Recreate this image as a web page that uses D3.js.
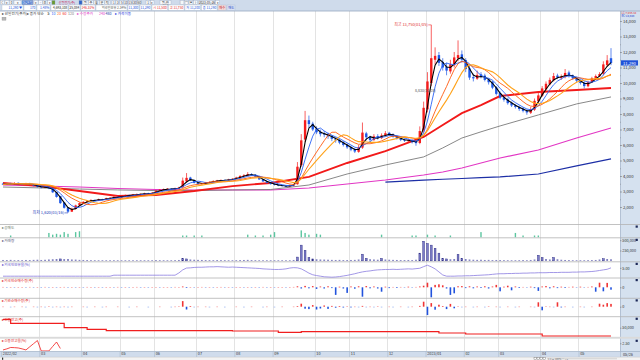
<!DOCTYPE html>
<html><head><meta charset="utf-8">
<script src="https://cdn.jsdelivr.net/npm/d3@7"></script>
<style>
html,body{margin:0;padding:0;background:#fff;overflow:hidden}
svg{display:block;font-family:"Noto Sans CJK KR","Noto Sans",sans-serif}
</style></head><body>
<svg id="c" width="640" height="360"></svg>
<script>
// ---------------- DATA ----------------
const candleOpen = [
3500,3450,3540,3470,3560,3510,3460,3530,3460,3390,
3320,3240,3310,3210,2960,2700,2300,1980,1700,1880,
2120,2240,2340,2410,2460,2410,2510,2470,2570,2600,
2660,2610,2700,2770,2730,2800,2820,2850,2890,2860,
2930,3040,3130,3140,3190,3150,3210,3270,3650,3900,
3730,3570,3470,3510,3590,3610,3690,3690,3750,3710,
3770,3830,3880,4010,4030,4130,4090,3960,3790,3660,
3570,3490,3430,3400,3360,3330,3390,3470,4700,6350,
7600,7380,7050,6850,6720,6690,6560,6410,6320,6170,
6030,5870,5720,5560,5830,6750,6520,6330,6580,6440,
6610,6790,6700,6560,6430,6340,6260,6310,6200,6130,
6950,8300,10000,11500,11800,11350,11050,10750,11150,11600,
11850,11480,10950,10380,10280,10560,10480,10230,10080,9720,
9350,9080,8950,8720,8560,8460,8350,8220,8080,8280,
8820,9180,9600,9920,10180,10480,10320,10380,10680,10480,
10320,10170,10020,9790,10060,10290,10440,10600,11150,11600];
const candleHigh = [
3560,3560,3560,3600,3580,3540,3560,3560,3480,3420,
3350,3340,3330,3230,2980,2720,2320,2000,1950,2150,
2300,2380,2450,2500,2480,2540,2530,2600,2640,2700,
2690,2740,2800,2800,2840,2870,2880,2920,2920,2950,
3080,3160,3190,3220,3220,3250,3300,3900,4190,3950,
3760,3600,3560,3620,3650,3720,3750,3780,3780,3820,
3860,3950,4060,4120,4250,4180,4110,3980,3820,3700,
3600,3520,3460,3420,3400,3440,3500,4900,6700,8200,
7900,7500,7200,7000,6900,6800,6650,6500,6400,6250,
6100,5950,5800,6000,7450,6850,6600,6700,6700,6750,
6900,6850,6750,6620,6500,6420,6420,6380,6280,7200,
8800,10700,13750,12300,12000,11600,11300,11500,12000,12750,
12100,11600,11100,10600,10800,10700,10600,10300,10150,9800,
9450,9200,9050,8800,8650,8550,8450,8300,8450,9000,
9350,9800,10100,10350,10650,10600,10550,10900,10800,10550,
10400,10250,10100,10150,10400,10550,10700,11400,11800,12250];
const candleLow = [
3420,3420,3440,3440,3470,3430,3440,3420,3340,3260,
3200,3220,3150,2900,2600,2200,1900,1620,1680,1850,
2080,2200,2300,2370,2380,2380,2440,2440,2540,2560,
2580,2580,2670,2700,2700,2770,2790,2820,2840,2830,
2900,3000,3100,3110,3120,3120,3180,3240,3600,3680,
3520,3440,3440,3480,3560,3580,3650,3660,3680,3680,
3740,3800,3860,3980,4000,4040,3920,3750,3620,3520,
3440,3390,3340,3310,3300,3300,3350,3440,4600,6200,
7100,6900,6700,6550,6500,6400,6250,6150,6050,5900,
5750,5600,5480,5500,5750,6300,6200,6250,6350,6380,
6550,6580,6480,6350,6250,6200,6200,6100,5950,6050,
6800,8100,9800,11200,11100,10800,10500,10600,11000,11400,
11300,10700,10200,10100,10200,10300,10100,9900,9600,9200,
8950,8800,8600,8450,8350,8200,8100,7950,8000,8200,
8750,9100,9500,9850,10100,10250,10200,10300,10350,10200,
10050,9900,9650,9720,10000,10250,10400,10500,11050,11150];
const candleClose = [
3450,3520,3480,3550,3500,3470,3520,3450,3380,3300,
3250,3300,3200,2950,2650,2250,1950,1700,1880,2100,
2250,2330,2400,2450,2420,2500,2480,2560,2600,2650,
2620,2700,2760,2740,2800,2830,2850,2880,2870,2920,
3050,3120,3150,3180,3160,3220,3260,3700,3880,3720,
3560,3480,3520,3580,3620,3680,3700,3740,3720,3780,
3820,3900,4000,4050,4120,4080,3950,3780,3650,3560,
3480,3420,3380,3350,3340,3400,3460,4600,6300,7600,
7350,7000,6820,6700,6680,6550,6400,6300,6150,6000,
5850,5700,5580,5850,6800,6500,6320,6560,6450,6620,
6760,6680,6540,6420,6330,6280,6300,6180,6120,6900,
8400,10100,11600,11750,11300,11000,10800,11200,11650,11800,
11500,10900,10350,10300,10520,10450,10200,10050,9700,9300,
9050,8920,8700,8550,8450,8320,8200,8100,8300,8850,
9200,9650,9950,10200,10450,10350,10400,10650,10450,10300,
10150,10000,9800,10050,10300,10450,10580,11200,11460,11290];

// long moving averages, read at these candle indices
const maIdx  = [0,10,20,30,40,50,60,70,80,90,100,110,115,120,125,130,140,150,159];
const ma60   = [3550,3350,3030,2710,2770,3030,3350,3550,3940,4840,5610,6520,7290,8060,8580,9160,9420,9550,9680];
const ma120  = [3290,3230,3160,3100,3060,3060,3100,3130,3420,4130,4710,5230,5810,6450,6850,7230,7940,8650,9100];
const ma240  = [3420,3350,3290,3190,3130,3100,3100,3100,3230,3480,3740,4060,4260,4520,4840,5160,5680,6450,7100];
const ma480  = [null,null,null,null,null,null,null,null,null,null,3610,3740,3790,3840,3890,3940,4130,4650,5100];
const shortMaWindows = [3,5,9,12];

// volume (thousand shares)
const volumeK = [
20,18,22,15,17,16,20,18,22,25, 20,24,30,35,40,45,38,40,30,28,
22,20,18,16,15,14,15,13,14,12, 12,13,12,11,12,13,12,14,13,15,
18,16,15,14,15,16,20,55,45,30, 25,22,20,18,17,16,18,17,16,15,
15,16,18,20,22,18,16,15,14,13, 13,14,13,12,12,13,20,90,380,255,
80,45,35,30,28,25,22,20,22,18, 18,20,22,30,160,60,35,30,25,58,
30,25,22,20,18,18,20,18,25,185, 475,420,380,305,185,60,45,35,40,155,
60,40,30,25,22,25,20,22,18,20, 18,16,15,14,15,16,18,15,20,30,
135,80,40,30,80,35,25,20,18,15, 14,15,14,16,18,20,30,50,40,35];

// foreign ownership (%)
const foreignOwnPct = [
0.89,0.89,0.89,0.89,0.89,0.89,0.89,0.89,0.89,0.89,
0.89,0.89,0.89,0.89,0.89,0.89,0.89,0.89,0.89,0.89,
0.89,0.89,0.89,0.89,0.89,0.89,0.89,0.89,0.89,
1.38,1.38,1.38,1.38,1.38,1.38,1.38,1.38,1.38,1.38,1.38,1.38,1.38,1.38,1.38,1.38,1.38,
2.5,4.0,4.9,5.0,5.2,5.3,5.3,5.4,5.5,5.5,5.6,5.5,5.4,5.3,5.4,
5.3,5.2,5.1,5.0,4.9,4.8,4.7,4.5,4.4,4.3,
4.2,4.2,4.3,4.5,4.9,5.1,5.0,4.5,3.5,2.4,
1.6,1.2,0.9,0.6,0.5,0.4,0.5,0.7,1.0,1.3,
1.7,2.1,2.6,3.0,3.3,3.5,3.8,4.0,4.1,4.2,
4.2,4.3,4.2,4.3,4.4,4.5,4.4,4.6,4.8,5.6,
6.3,5.5,4.5,3.0,1.5,0.9,0.9,0.9,1.0,1.0,
1.1,1.1,1.2,1.3,1.4,1.5,1.6,1.8,2.0,2.1,
2.1,2.2,2.2,2.3,2.3,2.4,2.4,2.5,2.5,2.6,
2.6,2.6,2.7,2.7,2.7,2.8,2.8,2.8,2.9,2.9,
3.0,3.0,3.1,3.2,3.4,3.7,4.0,4.3,5.0];

// foreign / institution net buying (thousand shares)
const foreignNet = [
2,-1,1,-2,1,1,-1,2,-2,1, -1,2,-2,1,-1,1,2,-1,1,-2,
1,-1,2,1,-1,1,-2,1,1,-1, 2,-1,1,-1,1,2,-1,1,-1,1,
1,-2,1,1,-1,2,1,4,-3,1, -1,1,2,-1,1,-1,1,2,-1,1,
-1,1,1,-2,1,-1,1,-1,2,-1, 1,-1,1,1,-1,1,2,5,-6,7,
-5,6,-8,4,-6,5,-4,-38,3,-6, -28,4,-7,5,-47,6,-5,4,-6,-22,
3,-4,2,-3,2,-2,3,-2,2,4, 8,23,-50,12,15,10,-6,-38,-30,5,
6,-4,5,-5,4,-3,5,-6,4,12, -20,3,8,-15,4,-3,2,-2,3,-4,
-18,4,6,-5,5,-4,3,-3,2,3, -2,3,-2,2,4,-22,23,-20,22,-12];
const instNet = [
1,0,-1,1,0,1,-1,0,1,-1, 1,-1,2,-1,1,-2,1,-1,1,0,
0,1,-1,0,1,0,-1,1,0,0, 1,0,0,-1,0,1,0,0,-1,0,
0,1,0,0,-1,1,2,28,-14,3, -2,1,0,1,-1,0,1,0,-1,0,
0,1,0,-1,0,1,0,0,-1,1, 0,-1,0,1,0,0,1,3,15,-10,
-12,8,-14,-9,6,-11,4,-5,3,-4, 2,-3,1,-2,4,-2,1,-1,2,-1,
0,1,-1,0,1,0,-1,1,0,4, 25,-42,18,-15,10,3,-12,14,-8,2,
-1,1,0,-1,1,0,-1,2,0,1, -1,0,1,0,-1,1,0,0,1,-1,
22,-18,2,1,-1,22,-3,1,0,-1, 0,1,-1,0,1,0,15,10,18,14];

// short-selling bars (sparse)
const shortIdx = [2,12,13,14,15,16,17,19,20,47,48,50,52,64,66,68,70,71,78,79,80,82,83,99,107,108,111,113,117,125,134,136,139,140];
const shortVal = [2,5,3,4,3,6,4,6,7,2,2,2,2,3,2,2,3,6,8,5,3,4,3,3,2,2,3,2,2,6,5,2,2,2];

// credit balance (shares), step changes at these candle indices
const creditStepIdx = [0,2,16,22,27,60,72,78,114,121,141];
const creditStepVal = [78000,64700,50000,44700,40000,39000,34700,36700,32300,29000,22300];
// credit ratio (%), first candles only
const creditRatePct = [0.59,0.9,1.3,1.25,1.16,0.9,0.59,1.5,2.4,3.3,0.3,0.3,0.3,1.6,2.87,1.01];

const monthLabels   = ["2022/02","03","04","05","06","07","08","09","10","11","12","2023/01","02","03","04","05"];
const monthStartIdx = [0,10,21,31,40,51,61,71,82,91,101,111,121,130,141,151];
const priceTicks = [2000,3000,4000,5000,6000,7000,8000,9000,10000,11000,12000,13000,14000];
const lastPrice = 11290, lastDate = "05/26";
const highLabel = "최고 13,750(01/05)", highIdx = 112;
const lowLabel = "최저 1,620(03/16)", lowIdx = 17;

// ---------------- DRAWING ----------------
const svg = d3.select("#c");
const N = candleClose.length;
const x = d3.scaleLinear().domain([0, N - 1]).range([3, 611]);
const step = x(1) - x(0);
const yP = d3.scaleLinear().domain([2000, 14000]).range([207, 21]);
const UP = "#f51d1d", DN = "#1e58e6";
const fmt = d3.format(",");
const FF = '"Noto Sans CJK KR",sans-serif';

function txt(g, X, Y, s, size, color, anchor) {
  return g.append("text").attr("x", X).attr("y", Y).attr("font-size", size)
    .attr("fill", color).attr("text-anchor", anchor || "start").text(s);
}

svg.append("rect").attr("width", 640).attr("height", 360).attr("fill", "#fff");
svg.append("defs").append("clipPath").attr("id", "cm").append("rect")
  .attr("x", 0).attr("y", 11).attr("width", 620).attr("height", 213.5);

// right axis panel
svg.append("rect").attr("x", 620).attr("y", 11).attr("width", 20).attr("height", 341).attr("fill", "#d5e1ef");
svg.append("line").attr("x1", 620.5).attr("x2", 620.5).attr("y1", 11).attr("y2", 352).attr("stroke", "#a9b9cd").attr("stroke-width", 0.8);

// month gridlines
svg.append("g").selectAll("line").data(monthStartIdx.slice(1)).join("line")
  .attr("x1", d => Math.round(x(d) - step / 2) + 0.5).attr("x2", d => Math.round(x(d) - step / 2) + 0.5)
  .attr("y1", 11).attr("y2", 351.5).attr("stroke", "#dcdcdc").attr("stroke-width", 0.8);

// panel separators
const seps = [224.5, 237.8, 261.8, 278, 298.3, 316.7];
svg.append("g").selectAll("line").data(seps).join("line")
  .attr("x1", 0).attr("x2", 640).attr("y1", d => d).attr("y2", d => d)
  .attr("stroke", "#b2b2b2").attr("stroke-width", 0.8);
svg.append("rect").attr("x", 0).attr("y", 336.8).attr("width", 640).attr("height", 1.9).attr("fill", "#dadada");

// ---- main chart ----
const gm = svg.append("g").attr("clip-path", "url(#cm)");
const lineP = d3.line().defined(d => d.v != null).x(d => x(d.i)).y(d => yP(d.v));
function drawMA(vals, color, w) {
  const pts = maIdx.map((i, k) => ({ i, v: vals[k] }));
  gm.append("path").attr("d", lineP(pts)).attr("fill", "none").attr("stroke", color).attr("stroke-width", w);
}
drawMA(ma480, "#1d2fa6", 1.2);
drawMA(ma240, "#e236c4", 1.1);
drawMA(ma120, "#7a7a7a", 0.9);
drawMA(ma60, "#f21a1a", 1.9);

// candles
const cg = gm.append("g");
const idx = d3.range(N);
const col = i => candleClose[i] >= candleOpen[i] ? UP : DN;
cg.selectAll("line").data(idx).join("line")
  .attr("x1", i => x(i)).attr("x2", i => x(i))
  .attr("y1", i => yP(candleHigh[i])).attr("y2", i => yP(candleLow[i]))
  .attr("stroke", col).attr("stroke-width", 0.7);
cg.selectAll("rect").data(idx).join("rect")
  .attr("x", i => x(i) - 1.2).attr("width", 2.4)
  .attr("y", i => yP(Math.max(candleOpen[i], candleClose[i])))
  .attr("height", i => Math.max(0.8, Math.abs(yP(candleOpen[i]) - yP(candleClose[i]))))
  .attr("fill", col);

// short moving averages from closes
const shortColors = ["#000000", "#2a62f5", "#ff5a10", "#ffa21a"];
const shortWidths = [1.1, 0.9, 0.9, 1.1];
shortMaWindows.forEach((w, k) => {
  const pts = idx.map(i => ({ i, v: d3.mean(candleClose.slice(Math.max(0, i - w + 1), i + 1)) }));
  gm.append("path").attr("d", lineP(pts)).attr("fill", "none")
    .attr("stroke", shortColors[k]).attr("stroke-width", shortWidths[k]);
});

// annotations
txt(svg, x(highIdx) - 3.5, yP(candleHigh[highIdx]) + 1.4, highLabel, 4, "#e23030", "end");
svg.append("line").attr("x1", x(highIdx) - 3).attr("x2", x(highIdx)).attr("y1", yP(candleHigh[highIdx])).attr("y2", yP(candleHigh[highIdx])).attr("stroke", "#e23030").attr("stroke-width", 0.6);
txt(svg, x(lowIdx) - 4, yP(candleLow[lowIdx]) + 1.4, lowLabel, 4, "#2438b8", "end");
svg.append("line").attr("x1", x(lowIdx) - 3.5).attr("x2", x(lowIdx)).attr("y1", yP(candleLow[lowIdx])).attr("y2", yP(candleLow[lowIdx])).attr("stroke", "#2438b8").attr("stroke-width", 0.6);
txt(svg, 415, 92, "8,830(12/28)", 3.6, "#555");

// price axis
const ax = svg.append("g").attr("transform", "translate(620,0)")
  .call(d3.axisRight(yP).tickValues(priceTicks).tickSize(2).tickPadding(1).tickFormat(fmt));
ax.select(".domain").remove();
ax.selectAll("text").attr("font-size", 4.2).attr("fill", "#333").attr("font-family", FF);
ax.selectAll("line").attr("stroke", "#666").attr("stroke-width", 0.5);
const axm = svg.append("g").attr("transform", "translate(620,0)")
  .call(d3.axisRight(yP).tickValues(priceTicks.slice(0, -1).map(v => v + 500)).tickSize(1).tickFormat(""));
axm.select(".domain").remove();
axm.selectAll("line").attr("stroke", "#777").attr("stroke-width", 0.4);

// current price tag (covers the 11,000 label partly, as in the reference)
const yl = yP(lastPrice);
svg.append("rect").attr("x", 621).attr("y", yl - 2.7).attr("width", 17).attr("height", 5.2).attr("fill", "#1f52d8");
txt(svg, 623, yl + 1.5, fmt(lastPrice), 4.2, "#fff");
txt(svg, 621.5, 14.3, "LC:7,056.44", 2.8, "#e03030");
txt(svg, 621.5, 17.2, "RC:10,849", 2.8, "#2040d0");

// ---- panel A: short selling ----
const yS = d3.scaleLinear().domain([0, 8]).range([237.2, 230.4]);
svg.append("g").selectAll("rect").data(shortIdx).join("rect")
  .attr("x", i => x(i) - 0.7).attr("width", 1.4)
  .attr("y", (i, k) => yS(shortVal[k])).attr("height", (i, k) => yS(0) - yS(shortVal[k]))
  .attr("fill", "#5cc6a0");

// ---- panel B: volume ----
const yV = d3.scaleLinear().domain([0, 500]).range([260.8, 240.2]);
svg.append("g").selectAll("rect").data(idx).join("rect")
  .attr("x", i => x(i) - 0.9).attr("width", 1.8)
  .attr("y", i => yV(volumeK[i])).attr("height", i => Math.max(0.6, yV(0) - yV(volumeK[i])))
  .attr("fill", i => volumeK[i] > 40 ? "#7c7cc8" : "#6a6ab4")
  .attr("stroke", "#2c2c84").attr("stroke-width", i => volumeK[i] > 40 ? 0.45 : 0);
const axV = svg.append("g").attr("transform", "translate(620,0)")
  .call(d3.axisRight(yV).tickValues([250, 500]).tickSize(1.5).tickPadding(0.8).tickFormat(d => fmt(d * 1000)));

// ---- panel C: foreign ownership ----
const yO = d3.scaleLinear().domain([0, 7]).range([278, 263.8]);
svg.append("path").attr("d", d3.line().x((d, i) => x(i)).y(d => yO(d))(foreignOwnPct))
  .attr("fill", "none").attr("stroke", "#8a7ce0").attr("stroke-width", 0.8);
const axO = svg.append("g").attr("transform", "translate(620,0)")
  .call(d3.axisRight(yO).tickValues([5]).tickSize(1.5).tickPadding(0.8).tickFormat(d3.format(".2f")));

// ---- panel D / E: net buying bars ----
function netBars(vals, yS2) {
  const y0 = yS2(0);
  svg.append("g").selectAll("rect").data(idx.filter(i => vals[i] !== 0)).join("rect")
    .attr("x", i => x(i) - 0.8).attr("width", 1.6)
    .attr("y", i => Math.min(y0, yS2(vals[i])))
    .attr("height", i => Math.max(0.7, Math.abs(yS2(vals[i]) - y0)))
    .attr("fill", i => vals[i] > 0 ? (vals[i] <= 2 ? "#f59a9a" : "#f03535") : (vals[i] >= -2 ? "#93aeee" : "#2253dd"));
}
const yF = d3.scaleLinear().domain([-50, 50]).range([297.3, 277.3]);
netBars(foreignNet, yF);
const axF = svg.append("g").attr("transform", "translate(620,0)")
  .call(d3.axisRight(yF).tickValues([0]).tickSize(1.5).tickPadding(0.8));
const yI = d3.scaleLinear().domain([-50, 50]).range([316.7, 296.7]);
netBars(instNet, yI);
const axI = svg.append("g").attr("transform", "translate(620,0)")
  .call(d3.axisRight(yI).tickValues([0]).tickSize(1.5).tickPadding(0.8));

// ---- panel F: credit balance ----
const yC = d3.scaleLinear().domain([0, 100000]).range([342.7, 312.7]);
const cPts = creditStepIdx.map((i, k) => ({ i, v: creditStepVal[k] }));
cPts.push({ i: N - 1, v: creditStepVal[creditStepVal.length - 1] });
svg.append("path").attr("d", d3.line().curve(d3.curveStepAfter).x(d => x(d.i)).y(d => yC(d.v))(cPts))
  .attr("fill", "none").attr("stroke", "#f01e1e").attr("stroke-width", 1.2);
const axC = svg.append("g").attr("transform", "translate(620,0)")
  .call(d3.axisRight(yC).tickValues([50000]).tickSize(1.5).tickPadding(0.8).tickFormat(fmt));

// ---- panel G: credit ratio ----
const yR = d3.scaleLinear().domain([0, 2.5]).range([352, 343.3]);
svg.append("path").attr("d", d3.line().x((d, i) => x(i)).y(d => yR(d))(creditRatePct))
  .attr("fill", "none").attr("stroke", "#f01e1e").attr("stroke-width", 0.8);
const axR = svg.append("g").attr("transform", "translate(620,0)")
  .call(d3.axisRight(yR).tickValues([2.5]).tickSize(1.5).tickPadding(0.8).tickFormat(d3.format(".2f")));

[axV, axO, axF, axI, axC, axR].forEach(a => {
  a.select(".domain").remove();
  a.selectAll("text").attr("font-size", 3.8).attr("fill", "#333").attr("font-family", FF);
  a.selectAll("line").attr("stroke", "#666").attr("stroke-width", 0.5);
});

// panel titles & squares
const panelTitles = [
  [228.6, "▸ 공매도", "#6a7a6a"], [241.7, "▸ 거래량", "#555577"], [265.6, "▸ 외국인보유율(%)", "#5a4cc8"],
  [281.9, "▸ 외국인순매수량(주)", "#e02828"], [302.2, "▸ 기관순매수량(주)", "#e02828"],
  [320.6, "▸ 신용잔고(주)", "#e02828"], [342.3, "▸ 신용잔고율(%)", "#e02828"]];
panelTitles.forEach(p => txt(svg, 1.5, p[0], p[1], 3.6, p[2]));
[224.5, 237.8, 261.8, 278, 298.3, 316.7, 338.7].forEach(t =>
  svg.append("rect").attr("x", 635.6).attr("y", t + 1).attr("width", 2.2).attr("height", 2.2).attr("fill", "#1c2858"));

// ---- bottom date axis ----
svg.append("rect").attr("x", 0).attr("y", 351.5).attr("width", 640).attr("height", 5.5).attr("fill", "#d0dcec");
svg.append("line").attr("x1", 0).attr("x2", 640).attr("y1", 351.5).attr("y2", 351.5).attr("stroke", "#9fb0c6").attr("stroke-width", 0.7);
const axB = svg.append("g").attr("transform", "translate(0,351.5)")
  .call(d3.axisBottom(x).tickValues(monthStartIdx).tickSize(0).tickFormat((d, k) => monthLabels[k]));
axB.select(".domain").remove();
axB.selectAll("text").attr("font-size", 3.8).attr("fill", "#333").attr("text-anchor", "start")
  .attr("x", -step / 2 + 1.2).attr("y", 1).attr("dy", "0.75em").attr("font-family", FF);
axB.selectAll(".tick").append("line").attr("x1", -step / 2).attr("x2", -step / 2).attr("y1", 0).attr("y2", 5.5)
  .attr("stroke", "#a8b8cc").attr("stroke-width", 0.6);
svg.append("line").attr("x1", 620.5).attr("x2", 620.5).attr("y1", 351.5).attr("y2", 357).attr("stroke", "#a9b9cd").attr("stroke-width", 0.7);
txt(svg, 623, 355.7, lastDate, 3.8, "#333");

// scroll strip
svg.append("rect").attr("x", 0).attr("y", 357).attr("width", 640).attr("height", 3).attr("fill", "#f3f3f3");
svg.append("line").attr("x1", 0).attr("x2", 640).attr("y1", 357.2).attr("y2", 357.2).attr("stroke", "#c4c4c4").attr("stroke-width", 0.5);
svg.append("rect").attr("x", 2).attr("y", 357.6).attr("width", 1.2).attr("height", 2.2).attr("fill", "#333");
[534, 537, 540, 543].forEach(X => svg.append("rect").attr("x", X).attr("y", 357.5).attr("width", 2.4).attr("height", 2.3).attr("fill", "#fff").attr("stroke", "#666").attr("stroke-width", 0.4));
svg.append("rect").attr("x", 547).attr("y", 357.8).attr("width", 70).attr("height", 1.6).attr("fill", "#d9d9d9");
txt(svg, 548, 359.6, "1:1   ◂  ▸   100%   ─   ◦   ▸", 2.4, "#666");

// ---- top toolbar ----
svg.append("rect").attr("x", 0).attr("y", 0).attr("width", 640).attr("height", 11).attr("fill", "#cfdbeb");
svg.append("line").attr("x1", 0).attr("x2", 640).attr("y1", 11).attr("y2", 11).attr("stroke", "#97a8c0").attr("stroke-width", 0.8);
const row1 = [
  [0.5, 4, "ㄷ"], [5, 4, "▾"], [9.5, 4, "0"], [14, 7, "▾"], [22, 11, "062970", "#2f63c8", "#fff"],
  [34, 4, "▾"], [38.5, 4, "◦"], [43, 4, "조"], [47.5, 4, "▾"], [52, 3, "", "#6a9a30"],
  [56, 22, "산일전기(주)", "none", "#c8285a"], [79, 3, "", "#2f63c8"],
  [83, 5, "일"], [88.5, 5, "주"], [94, 5, "월"], [99.5, 5, "분"], [105, 5, "틱"],
  [112, 3.5, "1"], [116, 3.5, "3"], [120, 3.5, "5"], [124, 4, "10"], [128.5, 4, "15"], [133, 4, "30"], [137.5, 4, "60"],
  [146, 4, "1"], [150.5, 3.5, "▾"], [160, 11, "일/한"], [180, 4, "▢"], [184.5, 4, "▤"], [189, 4, "▣"], [193.5, 4, "?"],
  [199, 16, "2023/05/26"], [215.5, 4, "▾"]];
row1.forEach(r => {
  const fill = r[3] || "#f7f9fc";
  if (fill !== "none") svg.append("rect").attr("x", r[0]).attr("y", 0.5).attr("width", r[1]).attr("height", 4)
    .attr("fill", fill).attr("stroke", "#8f9fb8").attr("stroke-width", 0.3);
  if (r[2]) txt(svg, r[0] + r[1] / 2, 3.6, r[2], 3.1, r[4] || "#333", "middle");
});
const row2 = [
  [2, 21, "11,290 ▼", "#1a4fd8"], [24, 12, "170", "#1a4fd8"], [37, 13, "1.48%", "#1a4fd8"],
  [51, 17, "4,693,108", "#222"], [69, 11, "25,084", "#222"], [81, 14, "146.31%", "#e02020"],
  [96, 31, "외국인보유 2.34%", "#555"], [128, 11, "11,300", "#1a4fd8"], [140, 11, "11,290", "#1a4fd8"],
  [152, 15.5, "시 11,500", "#e02020"], [168.5, 15.5, "고 11,750", "#e02020"], [185, 15.5, "저 11,200", "#1a4fd8"],
  [201.5, 15.5, "종 11,290", "#1a4fd8"], [218, 8, "매수", "#c02020", "#f4dada"], [227, 8, "매도", "#2040c0", "#dae2f4"]];
row2.forEach(r => {
  svg.append("rect").attr("x", r[0]).attr("y", 5).attr("width", r[1]).attr("height", 5.3)
    .attr("fill", r[4] || "#fff").attr("stroke", "#a0aec4").attr("stroke-width", 0.3);
  txt(svg, r[0] + r[1] - 0.8, 8.9, r[2], 3.2, r[3], "end");
});

// legend
const legend = [
  [2, "▸ 산일전기(주가)", "#333"], [27, "▸ 종가 단순", "#333"], [47.5, "5", "#000"], [51.5, "10", "#2a62f5"],
  [57, "20", "#ff5a10"], [62.5, "60", "#f21a1a"], [68, "120", "#7a7a7a"], [77, "▸ 수정주가", "#e236c4"],
  [99, "240", "#e236c4"], [105.5, "480", "#1d2fa6"], [115, "▸ 가격이동", "#2a40e0"]];
legend.forEach(l => txt(svg, l[0], 15.2, l[1], 3.6, l[2]));
svg.append("rect").attr("x", 2).attr("y", 17.2).attr("width", 4).attr("height", 3).attr("fill", "#b8b8b8").attr("stroke", "#888").attr("stroke-width", 0.3);
</script></body></html>
